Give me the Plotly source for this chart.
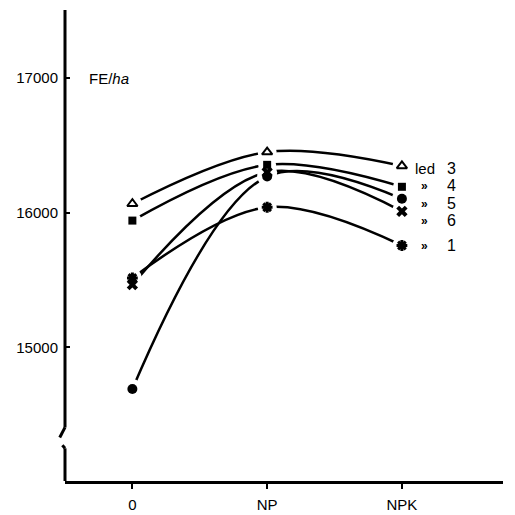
import plotly.graph_objects as go

categories = ["0", "NP", "NPK"]
led3 = [16066, 16450, 16347]
led4 = [15941, 16355, 16192]
led5 = [14690, 16268, 16103]
led6 = [15465, 16300, 16010]
led1 = [15515, 16040, 15756]
y_tick_vals = [15000, 16000, 17000]
y_tick_text = ["15000", "16000", "17000"]

series = [
    ("led 3", led3, "triangle-up-open", 9, "led", "3", 16325),
    ("led 4", led4, "square", 8, "»", "4", 16198),
    ("led 5", led5, "circle", 10, "»", "5", 16066),
    ("led 6", led6, "x", 10, "»", "6", 15941),
    ("led 1", led1, "asterisk-open", 9, "»", "1", 15756),
]

xi = list(range(len(categories)))
FONT = "Liberation Sans, Arial, Helvetica, sans-serif"

fig = go.Figure()
for name, vals, sym, size, lab, num, ly in series:
    fig.add_trace(go.Scatter(x=xi, y=vals, mode="lines",
                             line=dict(color="black", width=2.5, shape="spline", smoothing=1.0),
                             showlegend=False, hoverinfo="skip"))
for name, vals, sym, size, lab, num, ly in series:
    fig.add_trace(go.Scatter(x=xi, y=vals, mode="markers",
                             marker=dict(symbol="circle", size=size + 10, color="white"),
                             showlegend=False, hoverinfo="skip"))
for name, vals, sym, size, lab, num, ly in series:
    if sym == "triangle-up-open":
        mk = dict(symbol=sym, size=size, color="black", line=dict(color="black", width=2))
    elif sym == "asterisk-open":
        mk = dict(symbol=sym, size=size, color="black", line=dict(color="black", width=3))
    else:
        mk = dict(symbol=sym, size=size, color="black", line=dict(width=0))
    fig.add_trace(go.Scatter(x=xi, y=vals, mode="markers", marker=mk, name=name,
                             showlegend=False))

for name, vals, sym, size, lab, num, ly in series:
    if lab == "led":
        txt, fs = "led", 15
    else:
        txt, fs = "<b>»</b>", 12
    fig.add_annotation(x=2.17, y=ly, xref="x", yref="y", text=txt, showarrow=False,
                       font=dict(family=FONT, size=fs, color="#000000"),
                       xanchor="center", yanchor="middle")
    fig.add_annotation(x=2.37, y=ly, xref="x", yref="y", text=num, showarrow=False,
                       font=dict(family=FONT, size=16, color="#000000"),
                       xanchor="center", yanchor="middle")

fig.add_annotation(x=0.05, y=17000, xref="paper", yref="y", text="FE/<i>ha</i>",
                   showarrow=False, xanchor="left", yanchor="middle",
                   font=dict(family=FONT, size=15, color="black"))

ax = dict(xref="paper", yref="y", line=dict(color="black", width=3))
fig.add_shape(type="line", x0=0, x1=0, y0=14405, y1=17505, **ax)
fig.add_shape(type="line", x0=0, x1=-0.012, y0=14405, y1=14330, **ax)
fig.add_shape(type="line", x0=-0.006, x1=0, y0=14272, y1=14250, **ax)
fig.add_shape(type="line", x0=0, x1=0, y0=14250, y1=14007, **ax)

fig.update_layout(
    width=507, height=507,
    margin=dict(l=57, r=12, t=2, b=31),
    paper_bgcolor="white", plot_bgcolor="white",
    font=dict(family=FONT, size=15, color="black"),
    xaxis=dict(range=[-0.5, 2.75], tickvals=xi, ticktext=categories,
               showgrid=False, zeroline=False, showline=True, linecolor="black",
               linewidth=3, ticks="outside", ticklen=5, tickwidth=2, tickcolor="black",
               ticklabelstandoff=3,
               tickfont=dict(family=FONT, size=15, color="black")),
    yaxis=dict(range=[14007, 17505], tickvals=y_tick_vals, ticktext=y_tick_text,
               showgrid=False, zeroline=False, showline=False,
               ticks="inside", ticklen=5, tickwidth=2, tickcolor="black",
               ticklabelstandoff=6,
               tickfont=dict(family=FONT, size=15, color="black")),
)

fig.write_html("out.html")
